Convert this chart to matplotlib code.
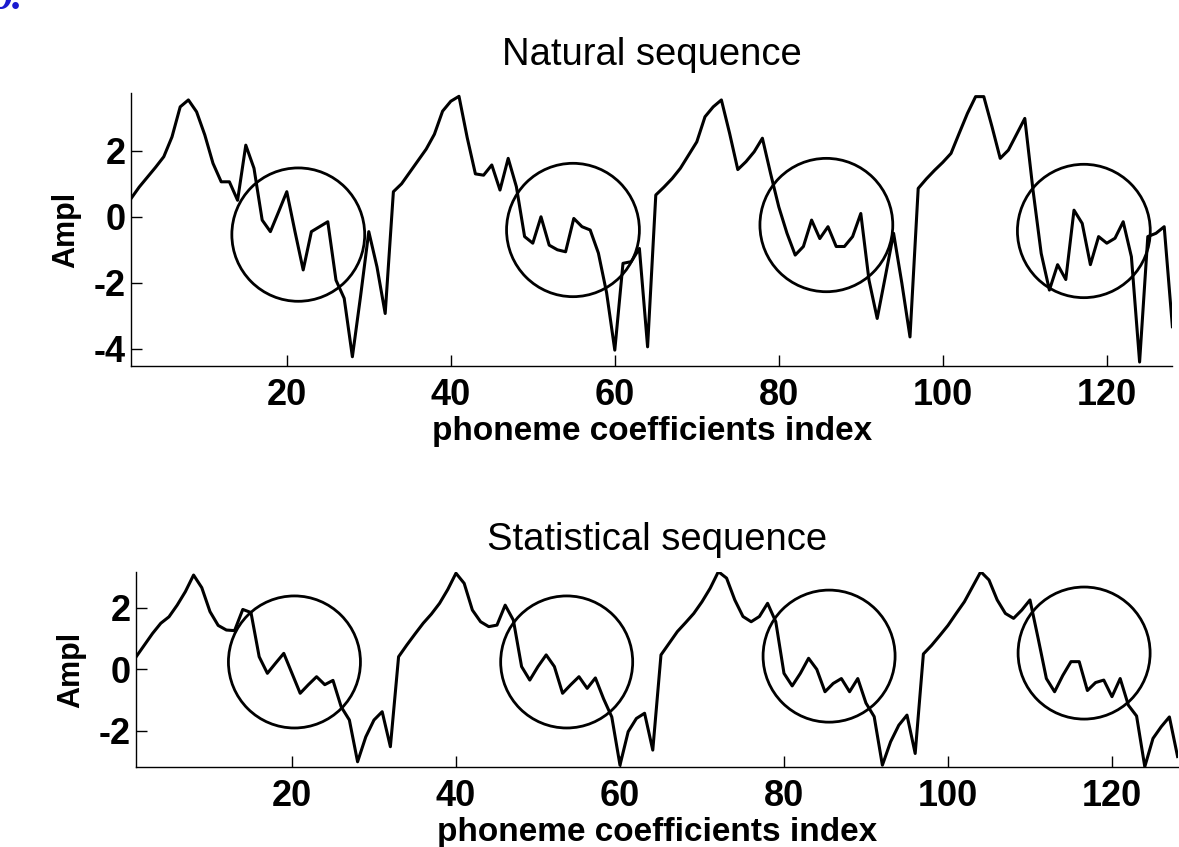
import matplotlib
matplotlib.use('Agg')
import numpy as np
import matplotlib.pyplot as plt
from matplotlib.patches import Ellipse

plt.rcParams['font.family'] = ['Liberation Sans', 'DejaVu Sans']
plt.rcParams['axes.unicode_minus'] = False

# coefficient index (4 phonemes x 32 coefficients)
idx = np.arange(1, 129)

natural = [0.55, 0.9, 1.2, 1.5, 1.82, 2.42, 3.33, 3.54, 3.18, 2.48, 1.62, 1.06, 1.06, 0.5, 2.17, 1.47,
           -0.1, -0.45, 0.15, 0.76, -0.45, -1.61, -0.45, -0.3, -0.15, -1.92, -2.47, -4.24, -2.4, -0.45, -1.52, -2.93,
           0.76, 1.0, 1.35, 1.7, 2.05, 2.5, 3.2, 3.5, 3.65, 2.4, 1.3, 1.26, 1.57, 0.81, 1.77, 0.91,
           -0.6, -0.8, 0.0, -0.86, -1.0, -1.06, -0.05, -0.3, -0.4, -1.1, -2.3, -4.04, -1.41, -1.36, -0.96, -3.94,
           0.66, 0.9, 1.16, 1.47, 1.87, 2.27, 3.03, 3.33, 3.54, 2.53, 1.43, 1.67, 1.97, 2.38, 1.31, 0.3,
           -0.5, -1.16, -0.9, -0.1, -0.66, -0.3, -0.9, -0.9, -0.6, 0.1, -1.92, -3.08, -1.8, -0.5, -2.0, -3.64,
           0.86, 1.15, 1.41, 1.65, 1.92, 2.53, 3.13, 3.64, 3.64, 2.73, 1.77, 2.02, 2.5, 2.98, 0.81, -1.11,
           -2.22, -1.45, -1.9, 0.2, -0.2, -1.45, -0.6, -0.8, -0.65, -0.15, -1.21, -4.4, -0.6, -0.5, -0.3, -3.33]

statistical = [0.41, 0.79, 1.17, 1.5, 1.71, 2.09, 2.53, 3.07, 2.66, 1.88, 1.43, 1.28, 1.26, 1.95, 1.85, 0.41,
               -0.13, 0.2, 0.52, -0.13, -0.78, -0.5, -0.24, -0.5, -0.36, -1.22, -1.65, -3.01, -2.2, -1.65, -1.38, -2.52,
               0.41, 0.79, 1.15, 1.5, 1.8, 2.15, 2.6, 3.13, 2.8, 1.93, 1.55, 1.39, 1.44, 2.09, 1.6, 0.09,
               -0.35, 0.09, 0.47, 0.09, -0.78, -0.5, -0.24, -0.62, -0.28, -0.96, -1.55, -3.12, -2.03, -1.6, -1.43, -2.63,
               0.47, 0.85, 1.23, 1.52, 1.82, 2.2, 2.64, 3.18, 2.97, 2.26, 1.72, 1.55, 1.72, 2.15, 1.55, -0.13,
               -0.54, -0.13, 0.36, 0.0, -0.73, -0.46, -0.3, -0.73, -0.3, -1.1, -1.54, -3.12, -2.36, -1.82, -1.49, -2.74,
               0.5, 0.78, 1.1, 1.43, 1.82, 2.2, 2.69, 3.18, 2.91, 2.26, 1.82, 1.66, 1.93, 2.26, 1.0, -0.3,
               -0.73, -0.2, 0.25, 0.25, -0.69, -0.43, -0.35, -0.89, -0.3, -1.17, -1.52, -3.17, -2.25, -1.87, -1.55, -2.84]

# circled regions (centre x, centre y)
nat_circles = [(21.4, -0.54), (54.9, -0.40), (85.8, -0.25), (117.2, -0.43)]
stat_circles = [(20.3, 0.24), (53.5, 0.24), (85.5, 0.43), (116.6, 0.53)]

xticks = [20, 40, 60, 80, 100, 120]
nat_yticks = [-4, -2, 0, 2]
stat_yticks = [-2, 0, 2]

fig = plt.figure(figsize=(11.79, 8.47), dpi=100)
ax1 = fig.add_axes([0.1111, 0.5679, 0.8833, 0.3223])
ax2 = fig.add_axes([0.1155, 0.0941, 0.8833, 0.2306])


def style_axes(ax, y, circles, ylim, yticks, rx, ry, title, title_pad):
    ax.plot(idx, y, color='black', lw=2.2)
    for cx, cy in circles:
        ax.add_patch(Ellipse((cx, cy), 2 * rx, 2 * ry, fill=False, ec='black', lw=2.0))
    ax.set_xlim(1, 128)
    ax.set_ylim(*ylim)
    ax.set_xticks(xticks)
    ax.set_yticks(yticks)
    for s in ['top', 'right']:
        ax.spines[s].set_visible(False)
    for s in ['left', 'bottom']:
        ax.spines[s].set_linewidth(1.0)
    ax.tick_params(axis='both', direction='in', length=8, width=1.0, labelsize=26)
    ax.tick_params(axis='x', pad=8.5)
    ax.tick_params(axis='y', pad=4)
    for lab in ax.get_xticklabels() + ax.get_yticklabels():
        lab.set_fontweight('bold')
    ax.set_title(title, fontsize=27.5, pad=title_pad)
    ax.set_xlabel('phoneme coefficients index', fontsize=24, fontweight='bold', labelpad=2)
    ax.set_ylabel('Ampl', fontsize=22, fontweight='bold', labelpad=9)


style_axes(ax1, natural, nat_circles, (-4.52, 3.75), nat_yticks, 8.1, 2.02, 'Natural sequence', 20)
style_axes(ax2, statistical, stat_circles, (-3.19, 3.17), stat_yticks, 8.05, 2.15, 'Statistical sequence', 16)

# panel letter, mostly cut off at the top edge
fig.text(-0.007, 1 - 9 / 847, 'b.', fontsize=30, color='#1a1ad0', family='Liberation Serif',
         weight='bold', style='italic', va='baseline', ha='left')

fig.savefig('out.png', dpi=100)
